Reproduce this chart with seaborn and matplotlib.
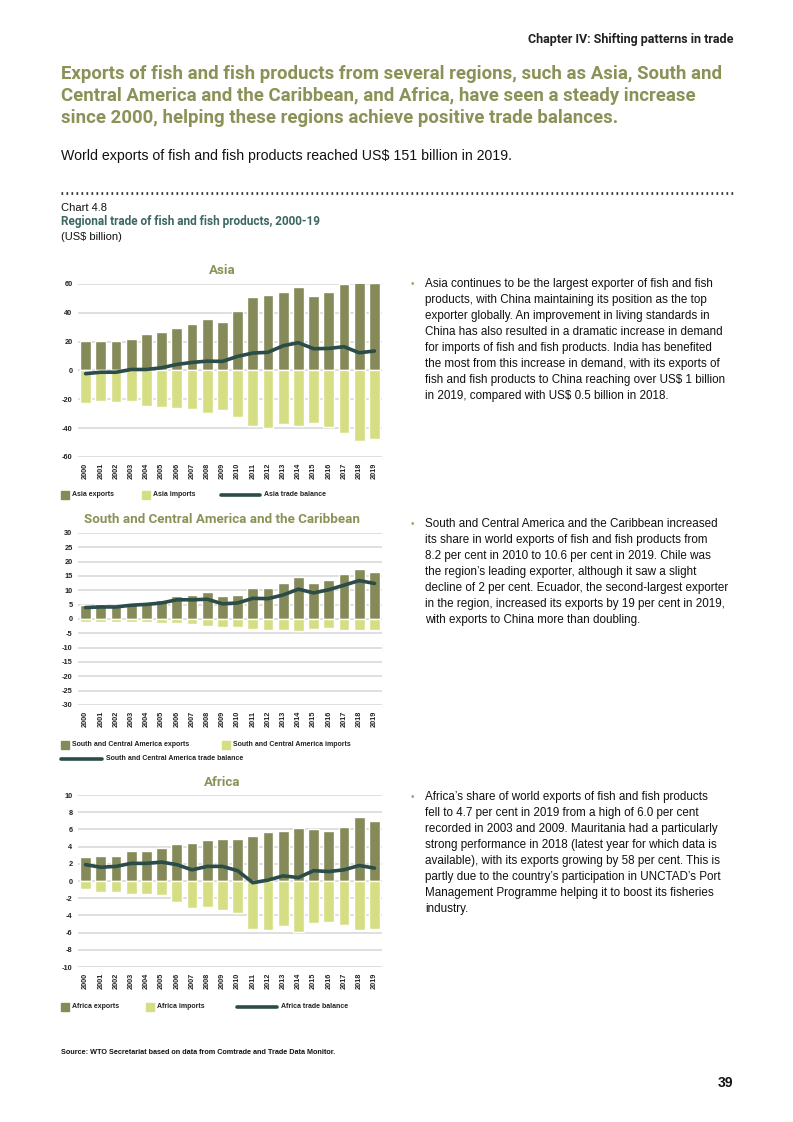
import numpy as np
import pandas as pd
import matplotlib
matplotlib.use("Agg")
import matplotlib.pyplot as plt
import matplotlib.patches as mpatches
import matplotlib.lines as mlines
import seaborn as sns

# Data (US$ billion)
years = [str(y) for y in range(2000, 2020)]

asia_exports = [20.2, 20.2, 20.2, 21.6, 25.1, 26.5, 29.3, 32.1, 35.6, 33.5,
                41.2, 50.9, 52.3, 54.4, 57.9, 51.6, 54.4, 60.0, 61.4, 60.7]
asia_imports = [-22.3, -20.9, -21.6, -20.9, -24.4, -25.1, -25.8, -26.5, -29.3, -27.2,
                -32.1, -38.4, -39.8, -37.0, -38.4, -36.3, -39.1, -43.3, -48.8, -47.4]
asia_balance = [-2.2, -1.2, -1.2, 0.7, 0.7, 1.9, 4.2, 5.6, 6.5, 6.3,
                9.8, 12.1, 12.6, 17.2, 19.3, 15.1, 15.3, 16.5, 12.3, 13.5]

sca_exports = [4.9, 5.1, 4.9, 5.5, 5.8, 6.5, 8.0, 8.4, 9.5, 8.0,
               8.4, 10.9, 10.9, 12.6, 14.7, 12.6, 13.7, 15.8, 17.5, 16.5]
sca_imports = [-1.0, -1.0, -1.0, -1.0, -1.0, -1.4, -1.4, -1.8, -2.5, -2.8,
               -2.8, -3.5, -3.9, -3.9, -4.2, -3.5, -3.2, -3.9, -3.9, -3.9]
sca_balance = [4.0, 4.2, 4.2, 4.8, 5.1, 5.6, 6.7, 6.7, 6.9, 5.3,
               5.6, 7.2, 7.1, 8.4, 10.4, 9.1, 10.2, 11.8, 13.4, 12.4]

africa_exports = [2.8, 2.9, 2.9, 3.5, 3.5, 3.8, 4.3, 4.4, 4.8, 4.9,
                  4.9, 5.2, 5.7, 5.8, 6.2, 6.0, 5.8, 6.3, 7.4, 7.0]
africa_imports = [-0.9, -1.3, -1.3, -1.5, -1.5, -1.6, -2.4, -3.1, -3.0, -3.4,
                  -3.7, -5.6, -5.7, -5.2, -5.9, -4.9, -4.8, -5.1, -5.7, -5.6]
africa_balance = [1.9, 1.6, 1.7, 2.05, 2.05, 2.2, 1.9, 1.3, 1.7, 1.7,
                  1.2, -0.2, 0.1, 0.6, 0.4, 1.2, 1.1, 1.3, 1.8, 1.5]

EXP_COL = "#858a58"
IMP_COL = "#d6de83"
LINE_COL = "#2b4c48"
OLIVE = "#8c9157"
TEAL = "#3b6662"
GRID = "#d9d9d9"

sns.set_theme(style="white")
plt.rcParams["font.family"] = ["Liberation Sans", "DejaVu Sans"]
plt.rcParams["axes.unicode_minus"] = False

W, H = 793, 1122
fig = plt.figure(figsize=(W / 100, H / 100), dpi=100)


def fx(x):
    return x / W


def fy(y):
    return 1 - y / H


def draw_panel(top, bottom, title, exports, imports, balance, ylim, step):
    ax = fig.add_axes([fx(78), fy(bottom), (382 - 78) / W, (bottom - top) / H])
    df = pd.DataFrame({"year": years, "exports": exports,
                       "imports": imports, "balance": balance})
    sns.barplot(data=df, x="year", y="exports", color=EXP_COL, width=0.72,
                saturation=1, ax=ax)
    sns.barplot(data=df, x="year", y="imports", color=IMP_COL, width=0.72,
                saturation=1, ax=ax)
    sns.lineplot(data=df, x="year", y="balance", color=LINE_COL, lw=2.6, ax=ax)
    ax.set_xlim(-0.5, len(years) - 0.5)
    ax.set_ylim(*ylim)
    ax.set_yticks(np.arange(ylim[0], ylim[1] + step, step))
    ax.yaxis.grid(True, color=GRID, lw=1.2)
    ax.set_axisbelow(True)
    sns.despine(ax=ax, left=True, bottom=True)
    ax.set_xlabel("")
    ax.set_ylabel("")
    ax.tick_params(axis="both", length=0, labelsize=5.3, pad=4)
    ax.set_xticks(range(len(years)))
    ax.set_xticklabels(years, rotation=90, fontweight="bold", color="#222222")
    for lab in ax.get_yticklabels():
        lab.set_fontweight("bold")
        lab.set_color("#222222")
    fig.text(fx(222), fy(top - 13), title, ha="center", va="center",
             fontsize=9.6, fontweight="bold", color=OLIVE, family="Roboto")
    return ax


def legend_box(x, y, color, label):
    fig.patches.append(mpatches.Rectangle((fx(x), fy(y + 4)), 8 / W, 8 / H,
                                          transform=fig.transFigure,
                                          color=color))
    fig.text(fx(x + 11), fy(y), label, fontsize=5, fontweight="bold",
             va="center", color="#222222")


def legend_line(x0, x1, y, label):
    fig.lines.append(mlines.Line2D([fx(x0), fx(x1)], [fy(y), fy(y)],
                                   transform=fig.transFigure,
                                   color=LINE_COL, lw=2.6))
    fig.text(fx(x1 + 4), fy(y), label, fontsize=5, fontweight="bold",
             va="center", color="#222222")


# header
fig.text(fx(733), fy(39), "Chapter IV: Shifting patterns in trade", ha="right",
         va="center", fontsize=9, fontweight="bold", family="Roboto",
         color="#222222")
heading = ["Exports of fish and fish products from several regions, such as Asia, South and",
           "Central America and the Caribbean, and Africa, have seen a steady increase",
           "since 2000, helping these regions achieve positive trade balances."]
for i, line in enumerate(heading):
    fig.text(fx(61), fy(74 + 22 * i), line, va="center", fontsize=13.4,
             fontweight="bold", color=OLIVE, family="Roboto")
fig.text(fx(61), fy(156), "World exports of fish and fish products reached US$ 151 billion in 2019.",
         va="center", fontsize=10.2, color="#111111")

fig.lines.append(mlines.Line2D([fx(61), fx(733)], [fy(193), fy(193)],
                               transform=fig.transFigure, color="#333333",
                               lw=2, linestyle=(0, (0.6, 1.2))))
fig.text(fx(61), fy(208), "Chart 4.8", va="center", fontsize=8, color="#111111")
fig.text(fx(61), fy(222), "Regional trade of fish and fish products, 2000-19",
         va="center", fontsize=8.5, fontweight="bold", color=TEAL, family="Roboto")
fig.text(fx(61), fy(237), "(US$ billion)", va="center", fontsize=8, color="#111111")

# panels
draw_panel(284, 457, "Asia", asia_exports, asia_imports, asia_balance, (-60, 60), 20)
legend_box(61, 495, EXP_COL, "Asia exports")
legend_box(142, 495, IMP_COL, "Asia imports")
legend_line(221, 260, 495, "Asia trade balance")

draw_panel(533, 705, "South and Central America and the Caribbean",
           sca_exports, sca_imports, sca_balance, (-30, 30), 5)
legend_box(61, 745, EXP_COL, "South and Central America exports")
legend_box(222, 745, IMP_COL, "South and Central America imports")
legend_line(61, 102, 759, "South and Central America trade balance")

draw_panel(795, 967, "Africa", africa_exports, africa_imports, africa_balance, (-10, 10), 2)
legend_box(61, 1007, EXP_COL, "Africa exports")
legend_box(146, 1007, IMP_COL, "Africa imports")
legend_line(237, 277, 1007, "Africa trade balance")

# commentary
notes = [
    (284, ["Asia continues to be the largest exporter of fish and fish",
           "products, with China maintaining its position as the top",
           "exporter globally. An improvement in living standards in",
           "China has also resulted in a dramatic increase in demand",
           "for imports of fish and fish products. India has benefited",
           "the most from this increase in demand, with its exports of",
           "fish and fish products to China reaching over US$ 1 billion",
           "in 2019, compared with US$ 0.5 billion in 2018."]),
    (524, ["South and Central America and the Caribbean increased",
           "its share in world exports of fish and fish products from",
           "8.2 per cent in 2010 to 10.6 per cent in 2019. Chile was",
           "the region\u2019s leading exporter, although it saw a slight",
           "decline of 2 per cent. Ecuador, the second-largest exporter",
           "in the region, increased its exports by 19 per cent in 2019,",
           "with exports to China more than doubling."]),
    (797, ["Africa\u2019s share of world exports of fish and fish products",
           "fell to 4.7 per cent in 2019 from a high of 6.0 per cent",
           "recorded in 2003 and 2009. Mauritania had a particularly",
           "strong performance in 2018 (latest year for which data is",
           "available), with its exports growing by 58 per cent. This is",
           "partly due to the country\u2019s participation in UNCTAD\u2019s Port",
           "Management Programme helping it to boost its fisheries",
           "industry."]),
]
for y0, lines in notes:
    fig.text(fx(411), fy(y0), "\u2022", va="center", fontsize=7, color="#a0a27a")
    for i, line in enumerate(lines):
        fig.text(fx(425), fy(y0 + 16 * i), line, va="center", fontsize=8.4,
                 color="#111111")

fig.text(fx(61), fy(1052), "Source: WTO Secretariat based on data from Comtrade and Trade Data Monitor.",
         va="center", fontsize=5.2, fontweight="bold", color="#111111")
fig.text(fx(733), fy(1083), "39", ha="right", va="center", fontsize=10,
         fontweight="bold", color="#111111")

fig.savefig("out.png", dpi=100)
